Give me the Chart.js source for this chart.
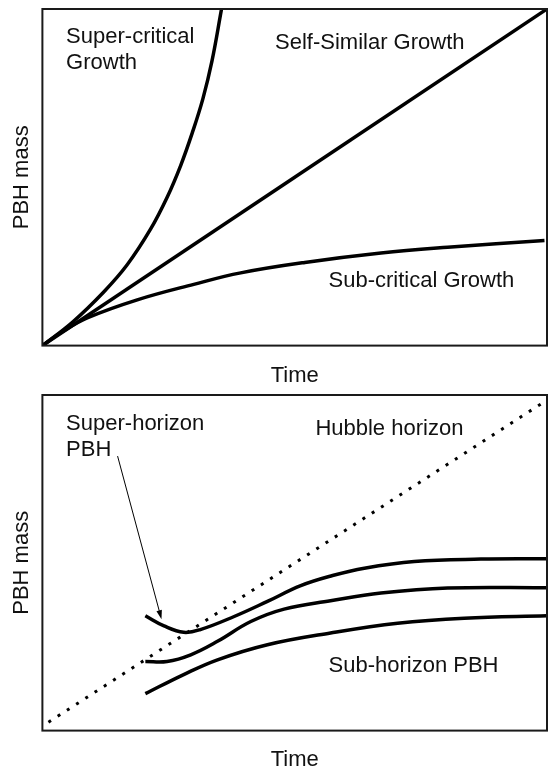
<!DOCTYPE html>
<html>
<head>
<meta charset="utf-8">
<title>PBH growth</title>
<script src="https://cdn.jsdelivr.net/npm/chart.js@4.4.1/dist/chart.umd.min.js"></script>
<style>
  body { margin: 0; background: #fff; }
  #wrap { position: relative; width: 556px; height: 771px; overflow: hidden; }
  #topChart { position: absolute; left: 0; top: 0; }
  #bottomChart { position: absolute; left: 0; top: 386px; }
</style>
</head>
<body>
<div id="wrap">
  <canvas id="topChart" width="556" height="392"></canvas>
  <canvas id="bottomChart" width="556" height="390"></canvas>
</div>
<script>
// ---- top panel: growth regimes (axes are 0..1 in both directions)
const superX = [0, 0.06, 0.122, 0.168, 0.214, 0.247, 0.274, 0.297, 0.318, 0.336, 0.355];
const superY = [0, 0.07, 0.160, 0.240, 0.345, 0.440, 0.535, 0.632, 0.733, 0.845, 1.0];
const selfX = [0, 1];
const selfY = [0, 1];
const subX = [0, 0.04, 0.09, 0.188, 0.30, 0.393, 0.52, 0.671, 0.803, 0.995];
const subY = [0, 0.042, 0.083, 0.136, 0.182, 0.216, 0.247, 0.275, 0.292, 0.312];

const topNotes = ["Super-critical", "Growth", "Self-Similar Growth", "Sub-critical Growth"];
const topNoteX = [0.047, 0.047, 0.461, 0.567];
const topNoteY = [0.899, 0.823, 0.881, 0.175];

// ---- bottom panel: horizon
const hubbleX = [0.012, 1.0];
const hubbleY = [0.025, 0.985];
const pbh1X = [0.204, 0.241, 0.280, 0.313, 0.380, 0.446, 0.512, 0.575, 0.638, 0.737, 0.869, 1.0];
const pbh1Y = [0.342, 0.312, 0.293, 0.301, 0.340, 0.385, 0.432, 0.462, 0.484, 0.504, 0.511, 0.512];
const pbh2X = [0.204, 0.247, 0.294, 0.347, 0.413, 0.479, 0.571, 0.671, 0.803, 1.0];
const pbh2Y = [0.206, 0.206, 0.226, 0.266, 0.325, 0.362, 0.387, 0.410, 0.425, 0.426];
const pbh3X = [0.204, 0.280, 0.347, 0.446, 0.571, 0.704, 0.836, 1.0];
const pbh3Y = [0.110, 0.167, 0.211, 0.256, 0.291, 0.320, 0.335, 0.342];

const arrowX = [0.149, 0.236];
const arrowY = [0.818, 0.332];

const bottomNotes = ["Super-horizon", "PBH", "Hubble horizon", "Sub-horizon PBH"];
const bottomNoteX = [0.047, 0.047, 0.541, 0.567];
const bottomNoteY = [0.896, 0.818, 0.881, 0.174];

const FONT = "'Liberation Sans', Arial, sans-serif";

const pts = (xs, ys) => xs.map((x, i) => ({ x: x, y: ys[i] }));

const curve = (xs, ys) => ({
  data: pts(xs, ys),
  borderColor: '#000',
  borderWidth: 3.5,
  pointRadius: 0,
  tension: 0.4,
  fill: false
});

// box around the plot area + free text + arrow, all placed through the scales
const decor = {
  id: 'decor',
  afterDatasetsDraw(chart, args, opts) {
    const ctx = chart.ctx;
    const a = chart.chartArea;
    const sx = chart.scales.x, sy = chart.scales.y;
    ctx.save();
    ctx.strokeStyle = '#1a1a1a';
    ctx.lineWidth = 2;
    ctx.strokeRect(a.left, a.top, a.right - a.left, a.bottom - a.top);

    ctx.fillStyle = '#111';
    ctx.font = '22px ' + FONT;
    ctx.textBaseline = 'alphabetic';
    ctx.textAlign = 'left';
    opts.text.forEach((t, i) => {
      ctx.fillText(t, sx.getPixelForValue(opts.tx[i]), sy.getPixelForValue(opts.ty[i]));
    });

    if (opts.ax) {
      const x0 = sx.getPixelForValue(opts.ax[0]), y0 = sy.getPixelForValue(opts.ay[0]);
      const x1 = sx.getPixelForValue(opts.ax[1]), y1 = sy.getPixelForValue(opts.ay[1]);
      const ang = Math.atan2(y1 - y0, x1 - x0);
      const len = 9, half = 2.8;
      ctx.strokeStyle = '#000';
      ctx.lineWidth = 1;
      ctx.beginPath();
      ctx.moveTo(x0, y0);
      ctx.lineTo(x1 - Math.cos(ang) * len * 0.8, y1 - Math.sin(ang) * len * 0.8);
      ctx.stroke();
      ctx.fillStyle = '#000';
      ctx.beginPath();
      ctx.moveTo(x1, y1);
      ctx.lineTo(x1 - Math.cos(ang) * len - Math.sin(ang) * half, y1 - Math.sin(ang) * len + Math.cos(ang) * half);
      ctx.lineTo(x1 - Math.cos(ang) * len + Math.sin(ang) * half, y1 - Math.sin(ang) * len - Math.cos(ang) * half);
      ctx.closePath();
      ctx.fill();
    }
    ctx.restore();
  }
};

function makeOptions(notes, xTitlePad) {
  return {
    responsive: false,
    animation: false,
    layout: { padding: { top: 9, right: 9, left: 5, bottom: 0 } },
    plugins: {
      legend: { display: false },
      tooltip: { enabled: false },
      decor: notes
    },
    scales: {
      x: {
        type: 'linear', min: 0, max: 1,
        ticks: { display: false },
        grid: { display: false, drawTicks: false },
        border: { display: false },
        title: { display: true, text: 'Time', color: '#111',
                 font: { family: FONT, size: 22 }, padding: xTitlePad }
      },
      y: {
        type: 'linear', min: 0, max: 1,
        ticks: { display: false },
        grid: { display: false, drawTicks: false },
        border: { display: false },
        title: { display: true, text: 'PBH mass', color: '#111',
                 font: { family: FONT, size: 22 }, padding: { top: 4, bottom: 7 } }
      }
    }
  };
}

new Chart(document.getElementById('topChart'), {
  type: 'line',
  data: {
    datasets: [curve(superX, superY), curve(selfX, selfY), curve(subX, subY)]
  },
  options: makeOptions({ text: topNotes, tx: topNoteX, ty: topNoteY }, { top: 17, bottom: 3 }),
  plugins: [decor]
});

const hubble = {
  data: pts(hubbleX, hubbleY),
  borderColor: '#000',
  borderWidth: 3,
  borderDash: [3, 8],
  borderCapStyle: 'butt',
  pointRadius: 0,
  fill: false
};

new Chart(document.getElementById('bottomChart'), {
  type: 'line',
  data: {
    datasets: [hubble, curve(pbh1X, pbh1Y), curve(pbh2X, pbh2Y), curve(pbh3X, pbh3Y)]
  },
  options: makeOptions({ text: bottomNotes, tx: bottomNoteX, ty: bottomNoteY,
                         ax: arrowX, ay: arrowY }, { top: 16, bottom: 3 }),
  plugins: [decor]
});
</script>
</body>
</html>
